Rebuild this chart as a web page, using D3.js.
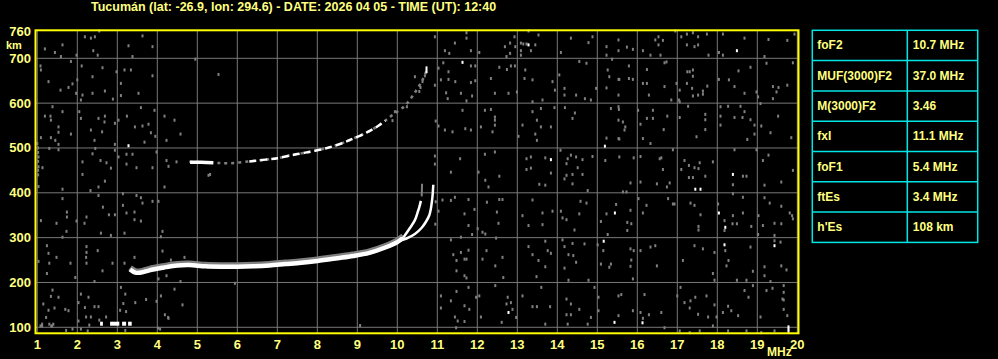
<!DOCTYPE html>
<html>
<head>
<meta charset="utf-8">
<script src="https://cdn.jsdelivr.net/npm/d3@7"></script>
<style>
  body { margin: 0; background: #000; }
  text { font-family: "Liberation Sans", Arial, sans-serif; font-weight: bold; }
</style>
</head>
<body>
<div id="ionogram"></div>
<script>
const title = "Tucumán (lat: -26.9, lon: 294.6) - DATE: 2026 04 05 - TIME (UT): 12:40";
const freqTicks = d3.range(1, 21);
const heightGrid = [100, 200, 300, 400, 500, 600, 700];
const heightLabels = [100, 200, 300, 400, 500, 600, 700, 760];

const paramNames = ["foF2", "MUF(3000)F2", "M(3000)F2", "fxI", "foF1", "ftEs", "h'Es"];
const paramValues = ["10.7 MHz", "37.0 MHz", "3.46", "11.1 MHz", "5.4 MHz", "3.4 MHz", "108 km"];

// echo traces [MHz, km]
const oTraceLow = [[3.32,229],[3.45,222],[3.6,222],[3.8,227],[4.15,233],[4.5,238],[4.8,239],[5.2,236],[5.6,235],[6.0,235],[6.4,236],[6.8,238],[7.2,241],[7.6,244],[8.0,248],[8.5,254],[8.9,259],[9.3,266],[9.7,278],[10.0,290],[10.15,300]];
const oTraceHigh = [[10.15,300],[10.32,322],[10.44,339],[10.51,357],[10.55,368],[10.59,382]];
const oTraceTop = [[10.61,392],[10.62,420]];
const xTrace = [[10.0,292],[10.23,298],[10.44,308],[10.61,322],[10.72,336],[10.8,350],[10.84,365],[10.86,377],[10.88,392],[10.9,418]];
const upperTrace = [[4.8,469],[5.4,467],[5.8,466],[6.3,470],[6.7,474],[7.0,477],[7.3,483],[7.6,488],[7.9,493],[8.2,499],[8.6,510],[8.9,521],[9.2,533],[9.5,548],[9.7,561],[9.9,575],[10.2,595],[10.45,625],[10.62,650],[10.73,672]];
const upperSolid = [[4.82,468],[5.1,468],[5.4,467]];
const upperDashed = [[6.3,470],[6.7,474],[7.0,477],[7.3,483],[7.6,488],[7.9,493],[8.2,499],[8.6,510],[8.9,521],[9.2,533],[9.5,548],[9.7,561]];
const upperTop = [[10.73,667],[10.73,682]];
const esHeight = 108;
const esBlocks = [[2.57,2.64],[2.82,3.05],[3.12,3.22],[3.27,3.36]];

// background noise echoes [MHz, km]
const noiseLow = [
  [2.19,748],[2.34,745],[2.44,748],[2.55,761],[1.63,730],[3.63,750],[3.28,728],[3.88,726],[1.19,721],[1.44,713],[1.59,704],[2.4,717],[1.98,707],[2.51,707],[3.38,704],
  [1.08,683],[1.09,674],[1.84,693],[2.11,683],[2.38,659],[2.63,679],[2.0,652],[1.88,643],[1.78,635],[1.58,629],[1.28,648],[1.97,622],[2.13,618],[2.09,607],[2.38,622],[2.69,627],[2.89,609],[3.18,674],[3.34,674],[3.09,644],[2.98,670],[3.53,622],[3.88,661],[3.09,617],[5.53,664],[4.95,698],
  [1.38,592],[1.19,571],[1.33,571],[1.34,562],[1.63,581],[2.05,581],[2.09,566],[2.53,566],[2.69,571],[2.68,558],[2.34,540],[2.62,536],[2.94,555],[3.03,562],[3.24,571],[3.59,590],[3.93,584],[3.44,547],[3.63,549],[3.78,553],[3.84,534],[3.95,526],[4.18,571],[4.43,562],[4.58,531],[4.23,517],[3.68,513],[1.09,523],[1.34,523],[1.53,547],[1.53,535],[1.45,517],[1.84,531],[2.43,517],[2.94,508],[1.53,508],[1.0,510],
  [1.03,480],[1.03,458],[1.13,456],[1.3,499],[1.53,496],[2.13,469],[2.13,441],[2.38,487],[2.58,472],[2.73,467],[2.84,455],[2.45,499],[2.69,426],[2.33,405],[2.53,413],[2.94,495],[3.03,480],[3.23,486],[3.38,486],[3.23,464],[3.48,456],[3.88,456],[3.98,491],[4.23,472],[4.28,459],[4.48,469],[4.18,413],[5.28,439],[1.03,414],[1.63,408],
  [1.02,500],[1.02,490],[1.02,470],[1.02,450],[1.02,440],
  [1.63,387],[1.74,357],[1.74,346],[1.09,338],[1.48,332],[1.98,337],[2.18,332],[2.23,346],[2.53,394],[2.64,368],[2.79,351],[2.94,351],[3.14,398],[3.23,355],[3.14,372],[3.43,357],[3.43,340],[3.48,394],[3.59,389],[3.63,377],[3.88,381],[4.03,381],[3.59,337],[1.73,314],[1.63,301],[2.59,310],[2.84,305],[3.18,310],[4.13,314],[4.09,302],
  [1.24,282],[1.28,265],[1.48,256],[1.03,247],[1.3,243],[1.83,243],[2.23,280],[2.23,267],[2.22,256],[2.51,271],[2.23,243],[2.63,226],[2.88,243],[3.18,243],[3.43,256],[4.13,270],[4.34,250],[4.68,256],[4.58,202],[4.23,215],[4.03,208],[2.43,202],[1.95,211],[1.24,220],
  [1.38,183],[1.34,169],[1.53,167],[1.15,152],[1.28,138],[1.43,143],[1.7,140],[1.78,137],[1.22,122],[1.3,107],[1.12,103],[1.37,103],[2.09,174],[2.28,167],[2.03,155],[2.19,144],[2.53,146],[2.43,146],[2.22,123],[2.34,123],[2.55,116],[2.72,123],[2.03,114],[2.3,105],[3.09,189],[3.2,174],[3.15,153],[3.07,138],[3.22,135],[3.45,155],[4.09,170],[3.72,162],[3.98,158],[4.19,128],[4.28,120],[4.63,150],[4.43,185],[1.88,96],[1.72,93],[2.09,96],[2.26,92],[3.2,93],[4.07,96],
  [1.08,103],[1.12,107],[1.35,103],[1.4,107],[4.27,122],[4.02,98]
];
const noiseCentre = [
  [5.32,441],[5.94,198],[9.07,104],[10.94,748],[10.94,482],[10.94,464],[10.96,560],[10.96,380],[10.95,330],
  [10.44,659],[10.63,648],[10.58,635],[10.55,626],[10.69,661],[10.94,640],[10.24,592],[9.94,581],[9.88,561]
];
const noiseMid = [
  [11.73,757],[11.73,745],[11.44,734],[11.19,717],[11.3,711],[11.84,717],[12.05,713],[12.69,726],[12.82,734],[12.93,748],[12.95,726],[12.82,711],[12.73,704],[13.09,734],[13.15,732],[13.23,732],[13.45,730],[13.34,717],[13.53,752],[13.09,717],[13.09,707],[13.28,761],[14.09,713],[14.34,745],[14.78,735],[14.88,748],[15.23,726],[15.23,707],[15.53,717],[15.53,741],
  [11.03,678],[11.15,690],[11.28,670],[11.84,683],[11.95,683],[11.45,648],[11.28,653],[11.09,652],[11.22,623],[11.26,610],[11.59,622],[11.84,646],[11.95,650],[11.87,616],[11.73,605],[12.55,680],[12.74,675],[12.84,683],[12.94,683],[12.34,655],[12.44,622],[12.78,622],[12.99,625],[13.2,674],[13.18,655],[13.38,652],[13.88,648],[13.94,629],[13.63,607],[13.38,603],[14.55,693],[14.73,689],[14.05,663],[14.18,633],[14.18,618],[14.47,618],[14.69,610],[14.84,607],[14.97,633],[15.26,674],[15.3,659],[15.37,698],[15.53,653],[15.23,634],[15.53,618],
  [11.63,584],[11.03,549],[11.19,540],[11.38,536],[11.7,543],[11.84,540],[12.19,584],[12.34,586],[12.44,569],[12.44,562],[12.44,551],[12.38,536],[12.09,547],[13.13,551],[13.38,581],[13.59,588],[13.49,562],[13.59,547],[13.84,547],[13.93,590],[13.45,531],[13.49,517],[13.03,526],[14.19,590],[14.44,578],[14.38,566],[15.34,588],[15.53,592],[15.53,562],[15.53,521],[15.23,522],
  [11.57,476],[11.34,446],[12.19,486],[12.44,491],[12.03,446],[12.2,428],[12.28,413],[12.55,437],[13.23,476],[13.34,480],[13.23,452],[13.34,455],[13.7,478],[13.84,444],[13.55,419],[13.7,417],[14.08,495],[14.34,484],[14.26,476],[14.47,480],[14.63,474],[14.88,481],[14.23,465],[14.51,456],[14.23,439],[14.38,441],[14.63,441],[14.38,420],[14.18,431],[14.76,405],[15.2,472],
  [11.13,384],[11.34,383],[11.44,390],[11.78,385],[11.93,363],[12.49,357],[12.24,379],[12.55,385],[12.63,385],[12.53,332],[11.03,359],[11.68,353],[11.78,327],[11.87,307],[12.01,320],[12.13,312],[12.2,308],[11.59,301],[13.13,349],[13.38,384],[13.63,355],[13.88,359],[13.63,329],[13.28,327],[14.09,359],[14.13,344],[14.23,340],[14.55,353],[14.58,381],[14.73,377],[14.43,317],[15.09,336],[15.23,353],[15.47,374],[15.26,307],
  [11.34,295],[11.4,262],[11.48,249],[11.59,267],[11.68,252],[11.78,272],[11.73,252],[11.48,226],[11.68,215],[11.73,210],[12.23,271],[12.13,252],[12.45,237],[12.63,256],[12.65,211],[12.47,299],[13.28,280],[13.38,262],[13.53,249],[13.7,292],[13.76,271],[13.84,265],[13.48,213],[13.7,235],[14.13,295],[14.18,280],[14.38,287],[14.28,262],[14.4,260],[14.47,245],[14.68,286],[14.18,232],[14.78,205],[14.28,205],[15.15,271],[15.09,241],[15.34,241],[15.01,284],[15.3,234],
  [11.09,170],[11.48,180],[11.78,189],[11.34,159],[11.09,143],[11.68,148],[11.8,140],[11.97,167],[12.05,170],[12.09,123],[11.44,123],[11.51,114],[11.68,113],[11.47,99],[12.45,193],[12.76,167],[12.73,152],[12.84,155],[12.97,122],[12.88,140],[12.61,111],[13.13,170],[13.38,146],[13.49,146],[13.7,107],[13.82,146],[13.6,189],[14.23,163],[14.23,128],[14.34,128],[14.34,152],[14.55,140],[14.26,107],[14.76,107],[14.84,122],[14.93,189],[15.03,167],[15.03,137],[15.53,170],[15.53,126]
];
const noiseHigh = [
  [15.74,725],[15.89,720],[16.14,717],[16.33,707],[16.45,741],[16.53,748],[16.53,730],[16.64,740],[16.58,707],[16.95,761],[17.1,748],[17.24,754],[17.24,730],[17.39,757],[17.52,748],[17.52,730],[17.43,726],[17.74,754],[17.78,707],[18.04,713],[18.14,754],[18.14,707],[18.68,745],[19.18,704],[19.28,742],[19.75,740],[19.93,754],
  [15.79,683],[15.89,653],[15.79,655],[15.55,653],[16.24,675],[16.24,644],[16.14,644],[16.29,618],[16.68,690],[16.73,692],[16.68,637],[16.85,607],[16.98,644],[17.06,629],[17.04,607],[17.25,670],[17.31,670],[17.39,674],[17.39,660],[17.24,644],[17.37,633],[17.52,618],[17.39,616],[17.64,627],[17.64,620],[17.75,638],[18.04,653],[18.29,652],[18.53,672],[18.43,637],[18.68,622],[18.83,680],[18.98,625],[19.02,614],[19.08,599],[19.23,689],[19.39,637],[19.39,610],[19.48,625],[19.53,635],[19.75,640],[19.89,690],
  [15.54,586],[15.64,558],[15.7,547],[15.68,540],[15.55,520],[16.02,584],[16.08,553],[16.14,521],[16.39,584],[16.24,566],[16.39,566],[16.66,541],[16.75,571],[16.33,510],[17.06,603],[17.27,593],[17.06,568],[17.7,575],[17.7,563],[17.7,541],[17.48,525],[18.08,592],[18.08,571],[18.08,551],[18.27,593],[18.43,568],[18.58,593],[18.68,581],[18.63,568],[18.83,563],[18.93,551],[18.75,519],[19.1,549],[19.33,534],[19.52,571],[19.85,523],[18.93,531],
  [15.55,480],[15.91,478],[16.08,481],[16.56,476],[16.6,478],[16.64,452],[16.89,496],[17.1,452],[17.18,472],[17.29,461],[17.29,434],[17.43,456],[17.56,467],[17.53,454],[17.39,434],[17.7,437],[17.89,469],[16.81,422],[16.74,413],[16.49,420],[16.08,424],[15.83,422],[15.64,402],[18.39,418],[18.64,437],[18.73,437],[18.43,496],[18.98,496],[19.14,472],[19.28,484],[19.18,417],[19.6,424],[19.89,450],
  [15.73,402],[16.03,387],[15.83,361],[15.75,334],[15.85,331],[15.75,316],[16.14,355],[16.23,372],[16.77,387],[16.89,375],[16.93,375],[17.33,377],[17.43,372],[17.58,351],[17.53,325],[17.53,317],[18.18,338],[18.18,316],[18.39,349],[18.38,331],[18.49,331],[18.64,355],[18.85,325],[19.03,349],[19.14,327],[19.43,332],[19.6,331],[19.81,355],[19.87,349],[19.89,342],[19.43,305],[19.6,370],[19.18,389],[19.31,377],[18.64,390],[18.39,398],[18.02,375],[19.02,307],
  [15.83,275],[15.91,271],[15.85,250],[16.08,271],[15.83,236],[15.89,208],[16.45,282],[16.33,279],[16.49,237],[17.14,249],[17.43,282],[17.64,275],[17.93,267],[17.89,220],[17.93,205],[18.2,271],[18.28,249],[18.23,237],[18.49,205],[18.73,205],[18.89,225],[18.83,279],[19.18,235],[19.33,202],[19.6,237],[19.43,293],[19.58,290],[19.73,228],[19.18,215],
  [15.6,173],[16.18,173],[15.89,137],[16.08,133],[16.14,120],[16.29,128],[16.6,133],[17.08,189],[17.0,170],[17.18,155],[17.33,159],[17.45,167],[17.31,143],[17.73,170],[17.77,123],[17.93,150],[17.98,123],[17.52,129],[18.27,147],[18.14,133],[18.35,137],[18.52,126],[18.68,182],[18.78,167],[18.89,193],[19.08,123],[19.23,182],[19.38,187],[19.66,193],[19.66,178],[19.66,161],[19.66,140],[19.75,126],[19.63,163],[16.68,99],[17.06,92],[17.31,88],[17.56,92],[17.89,103],[18.27,92],[18.73,92],[19.1,88],[19.43,92]
];
const noiseWhite = [
  [3.28,505],[13.28,730],[11.63,691],[15.19,504],[13.84,474],[15.44,355],[15.16,292],[12.78,133],[15.43,111],[18.49,717],
  [17.45,408],[17.58,408],[18.39,441],[18.04,355],[18.2,323],[18.18,284],[19.43,282],[19.78,101],[19.78,96],[19.78,91],[16.13,110]
];

const W = 998, H = 359;
const plot = { left: 35.5, right: 798.5, top: 30.3, bottom: 333.3 };

const svg = d3.select("#ionogram")
  .append("svg")
  .attr("width", W)
  .attr("height", H)
  .style("background", "#000");

const x = d3.scaleLinear().domain([1, 20]).range([37.3, 797.3]);
const y = d3.scaleLinear().domain([86.6, 762.5]).range([plot.bottom, plot.top]);

const gridColor = "#787878";
const noiseColor = "#808080";
const labelColor = "#ffff80";

// title
svg.append("text")
  .attr("x", 91)
  .attr("y", 7)
  .attr("dominant-baseline", "central")
  .attr("fill", labelColor)
  .style("font-size", "12.5px")
  .text(title);

// grid
svg.selectAll(".vgrid")
  .data(freqTicks)
  .join("line")
  .attr("class", "vgrid")
  .attr("x1", d => x(d)).attr("x2", d => x(d))
  .attr("y1", plot.top).attr("y2", plot.bottom)
  .attr("stroke", gridColor)
  .attr("stroke-width", 1);

svg.selectAll(".hgrid")
  .data(heightGrid)
  .join("line")
  .attr("class", "hgrid")
  .attr("x1", plot.left).attr("x2", plot.right)
  .attr("y1", d => y(d)).attr("y2", d => y(d))
  .attr("stroke", gridColor)
  .attr("stroke-width", 1);

// noise
function dots(data, color, cls) {
  svg.selectAll("." + cls)
    .data(data)
    .join("rect")
    .attr("class", cls)
    .attr("x", d => x(d[0]) - 1)
    .attr("y", d => y(d[1]) - 1.5)
    .attr("width", 2)
    .attr("height", 3)
    .attr("fill", color);
}
dots(noiseLow, noiseColor, "nlow");
dots(noiseCentre, noiseColor, "ncen");
dots(noiseMid, noiseColor, "nmid");
dots(noiseHigh, noiseColor, "nhigh");
dots(noiseWhite, "#ffffff", "nwhite");

// traces
const line = d3.line()
  .x(d => x(d[0]))
  .y(d => y(d[1]))
  .curve(d3.curveCatmullRom);

function trace(data, color, width, dash, shift) {
  svg.append("path")
    .attr("d", line(data))
    .attr("fill", "none")
    .attr("stroke", color)
    .attr("stroke-width", width)
    .attr("stroke-dasharray", dash || null)
    .attr("transform", shift ? `translate(0,${shift})` : null);
}

trace(upperTrace, noiseColor, 2.5, "3,4");
trace(upperSolid, "#ffffff", 3.5);
trace(upperDashed, "#ffffff", 2.5, "7,4");
trace(upperTop, "#ffffff", 2);

trace(oTraceLow, noiseColor, 6, null, -1.5);
trace(oTraceLow, "#ffffff", 4.5);
trace(oTraceHigh, "#ffffff", 2.5);
trace(oTraceTop, noiseColor, 2);
trace(xTrace, "#ffffff", 2.5);

svg.selectAll(".es")
  .data(esBlocks)
  .join("rect")
  .attr("class", "es")
  .attr("x", d => x(d[0]))
  .attr("y", y(esHeight) - 2)
  .attr("width", d => x(d[1]) - x(d[0]))
  .attr("height", 4)
  .attr("fill", "#ffffff");

// frame
svg.append("rect")
  .attr("x", plot.left)
  .attr("y", plot.top)
  .attr("width", plot.right - plot.left)
  .attr("height", plot.bottom - plot.top)
  .attr("fill", "none")
  .attr("stroke", "#ffff00")
  .attr("stroke-width", 2);

// axis labels
svg.selectAll(".ylab")
  .data(heightLabels)
  .join("text")
  .attr("class", "ylab")
  .attr("x", 31)
  .attr("y", d => y(d))
  .attr("text-anchor", "end")
  .attr("dominant-baseline", "central")
  .attr("fill", labelColor)
  .style("font-size", "13px")
  .text(d => d);

svg.append("text")
  .attr("x", 6)
  .attr("y", 45)
  .attr("dominant-baseline", "central")
  .attr("fill", labelColor)
  .style("font-size", "11px")
  .text("km");

svg.selectAll(".xlab")
  .data(freqTicks)
  .join("text")
  .attr("class", "xlab")
  .attr("x", d => x(d))
  .attr("y", 344.5)
  .attr("text-anchor", "middle")
  .attr("dominant-baseline", "central")
  .attr("fill", labelColor)
  .style("font-size", "13px")
  .text(d => d);

svg.append("text")
  .attr("x", 767)
  .attr("y", 352)
  .attr("dominant-baseline", "central")
  .attr("fill", labelColor)
  .style("font-size", "12px")
  .text("MHz");

// parameter table
const table = { left: 812.3, mid: 907.3, right: 977.7, top: 30.3, row: 30.3 };
const tg = svg.append("g");

tg.append("rect")
  .attr("x", table.left)
  .attr("y", table.top)
  .attr("width", table.right - table.left)
  .attr("height", table.row * paramNames.length)
  .attr("fill", "none")
  .attr("stroke", "#00e6e6")
  .attr("stroke-width", 1.5);

tg.selectAll(".rowline")
  .data(d3.range(1, paramNames.length))
  .join("line")
  .attr("class", "rowline")
  .attr("x1", table.left).attr("x2", table.right)
  .attr("y1", i => table.top + i * table.row)
  .attr("y2", i => table.top + i * table.row)
  .attr("stroke", "#00e6e6")
  .attr("stroke-width", 1.5);

tg.append("line")
  .attr("x1", table.mid).attr("x2", table.mid)
  .attr("y1", table.top).attr("y2", table.top + table.row * paramNames.length)
  .attr("stroke", "#00e6e6")
  .attr("stroke-width", 1.5);

tg.selectAll(".pname")
  .data(paramNames)
  .join("text")
  .attr("class", "pname")
  .attr("x", table.left + 5)
  .attr("y", (d, i) => table.top + (i + 0.5) * table.row)
  .attr("dominant-baseline", "central")
  .attr("fill", labelColor)
  .style("font-size", "12px")
  .text(d => d);

tg.selectAll(".pval")
  .data(paramValues)
  .join("text")
  .attr("class", "pval")
  .attr("x", table.mid + 5.5)
  .attr("y", (d, i) => table.top + (i + 0.5) * table.row)
  .attr("dominant-baseline", "central")
  .attr("fill", labelColor)
  .style("font-size", "12px")
  .text(d => d);
</script>
</body>
</html>
